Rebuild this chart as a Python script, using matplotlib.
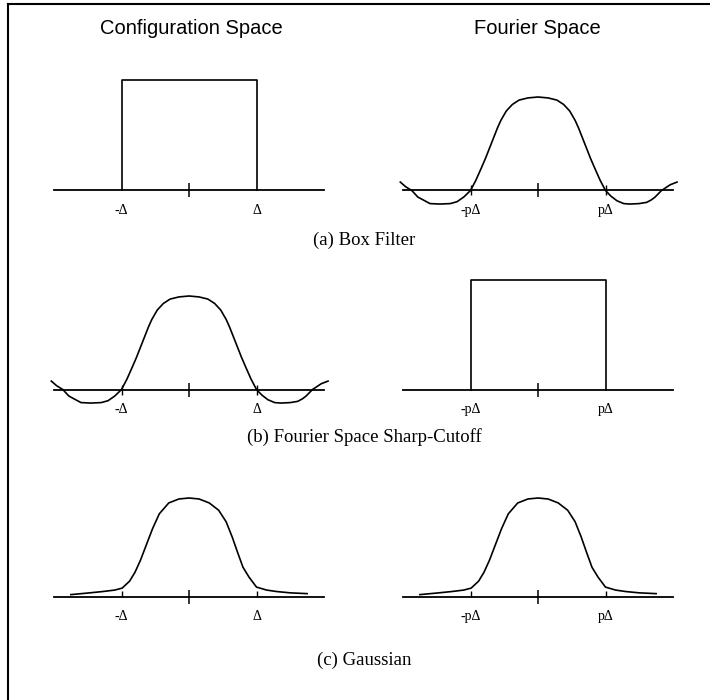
import numpy as np
import matplotlib.pyplot as plt
from matplotlib.lines import Line2D
from matplotlib.ticker import FixedLocator

plt.rcParams['font.family'] = ['Liberation Serif', 'DejaVu Serif']

# x in units of the cutoff (Delta or p*Delta), y relative to the box height
box_x = [-1, -1, 1, 1]
box_y = [0, 1, 1, 0]

sinc_x = [-2.04, -1.96, -1.87, -1.78, -1.6, -1.45, -1.30, -1.2, -1.1, -1.0,
          -0.92, -0.84, -0.78, -0.72, -0.66, -0.60, -0.55, -0.47, -0.38, -0.28,
          -0.15, 0.0, 0.15, 0.28, 0.38, 0.47, 0.55, 0.60, 0.66, 0.72,
          0.78, 0.84, 0.92, 1.0, 1.08, 1.17, 1.27, 1.36, 1.5, 1.61,
          1.68, 1.73, 1.83, 1.96, 2.06]
sinc_y = [0.09, 0.04, 0.0, -0.07, -0.14, -0.145, -0.14, -0.12, -0.07, 0.0,
          0.11, 0.24, 0.34, 0.45, 0.56, 0.67, 0.75, 0.85, 0.92, 0.967,
          0.99, 1.0, 0.99, 0.967, 0.92, 0.85, 0.75, 0.67, 0.56, 0.45,
          0.34, 0.24, 0.11, 0.0, -0.06, -0.11, -0.14, -0.145, -0.14, -0.127,
          -0.1, -0.073, 0.0, 0.062, 0.09]
sinc_peak = 0.85

gauss_x = [-1.75, -1.5, -1.28, -1.1, -0.99, -0.88, -0.8, -0.72, -0.63, -0.54,
           -0.44, -0.3, -0.15, 0.0, 0.15, 0.3, 0.44, 0.55, 0.64, 0.72,
           0.8, 0.89, 1.0, 1.15, 1.3, 1.5, 1.75]
gauss_y = [0.024, 0.04, 0.055, 0.07, 0.09, 0.16, 0.25, 0.37, 0.53, 0.69,
           0.84, 0.95, 0.99, 1.0, 0.99, 0.95, 0.876, 0.76, 0.606, 0.45,
           0.3, 0.2, 0.1, 0.07, 0.055, 0.042, 0.034]
gauss_peak = 0.9

config_labels = ['-\u0394', '\u0394']
fourier_labels = ['-p\u0394', 'p\u0394']
column_titles = ['Configuration Space', 'Fourier Space']
captions = ['(a) Box Filter', '(b) Fourier Space Sharp-Cutoff', '(c) Gaussian']

W, H = 710, 700
fig = plt.figure(figsize=(W / 100, H / 100), dpi=100)

UX = 67.5     # px per unit in x
UY = 110.0    # px per unit in y
col_cx = [189, 538]
row_y = [190.5, 389.5, 597]


def make_axes(cx, ay):
    left = cx - 2.2 * UX
    ax = fig.add_axes([left / W, 1 - (ay + 30) / H, 4.4 * UX / W, 150 / H])
    ax.set_xlim(-2.2, 2.2)
    ax.set_ylim(-30 / UY, 120 / UY)
    for s in ['top', 'left', 'right']:
        ax.spines[s].set_visible(False)
    ax.spines['bottom'].set_position(('data', 0))
    ax.spines['bottom'].set_bounds(-2.0, 2.0)
    ax.spines['bottom'].set_linewidth(1.3)
    ax.set_yticks([])
    ax.patch.set_alpha(0)
    ax.xaxis.set_minor_locator(FixedLocator([0]))
    ax.tick_params(axis='x', which='minor', direction='inout', length=10, width=1.1)
    return ax


def draw(ax, kind, labels):
    if kind == 'box':
        ax.plot(box_x, box_y, color='black', lw=1.2)
        ax.set_xticks([-1, 1], labels)
        ax.tick_params(axis='x', which='major', length=0, pad=9.5, labelsize=10)
    elif kind == 'sinc':
        ax.plot(sinc_x, np.array(sinc_y) * sinc_peak, color='black', lw=1.2)
        ax.set_xticks([-1, 1], labels)
        ax.tick_params(axis='x', which='major', direction='inout', length=7,
                       width=1.0, pad=6, labelsize=10)
    else:
        ax.plot(gauss_x, np.array(gauss_y) * gauss_peak, color='black', lw=1.2)
        ax.set_xticks([-1, 1], labels)
        ax.tick_params(axis='x', which='major', direction='in', length=4.5,
                       width=1.0, pad=9.5, labelsize=10)


layout = [('box', 'sinc'), ('sinc', 'box'), ('gauss', 'gauss')]
for r, kinds in enumerate(layout):
    for c, kind in enumerate(kinds):
        ax = make_axes(col_cx[c], row_y[r])
        draw(ax, kind, config_labels if c == 0 else fourier_labels)

for c, title in enumerate(column_titles):
    fig.text([191, 537][c] / W, 1 - 28 / H, title, ha='center', va='center',
             fontsize=14.5, family=['Liberation Sans', 'DejaVu Sans'])

for y, cap in zip([240, 437, 660], captions):
    fig.text(364 / W, 1 - y / H, cap, ha='center', va='center', fontsize=13.5)

# frame: only the top and left edges
fig.add_artist(Line2D([8 / W, 1], [1 - 4 / H, 1 - 4 / H], color='black', lw=1.5,
                      transform=fig.transFigure))
fig.add_artist(Line2D([8 / W, 8 / W], [0, 1 - 4 / H], color='black', lw=1.5,
                      transform=fig.transFigure))

fig.savefig('out.png', dpi=100)
